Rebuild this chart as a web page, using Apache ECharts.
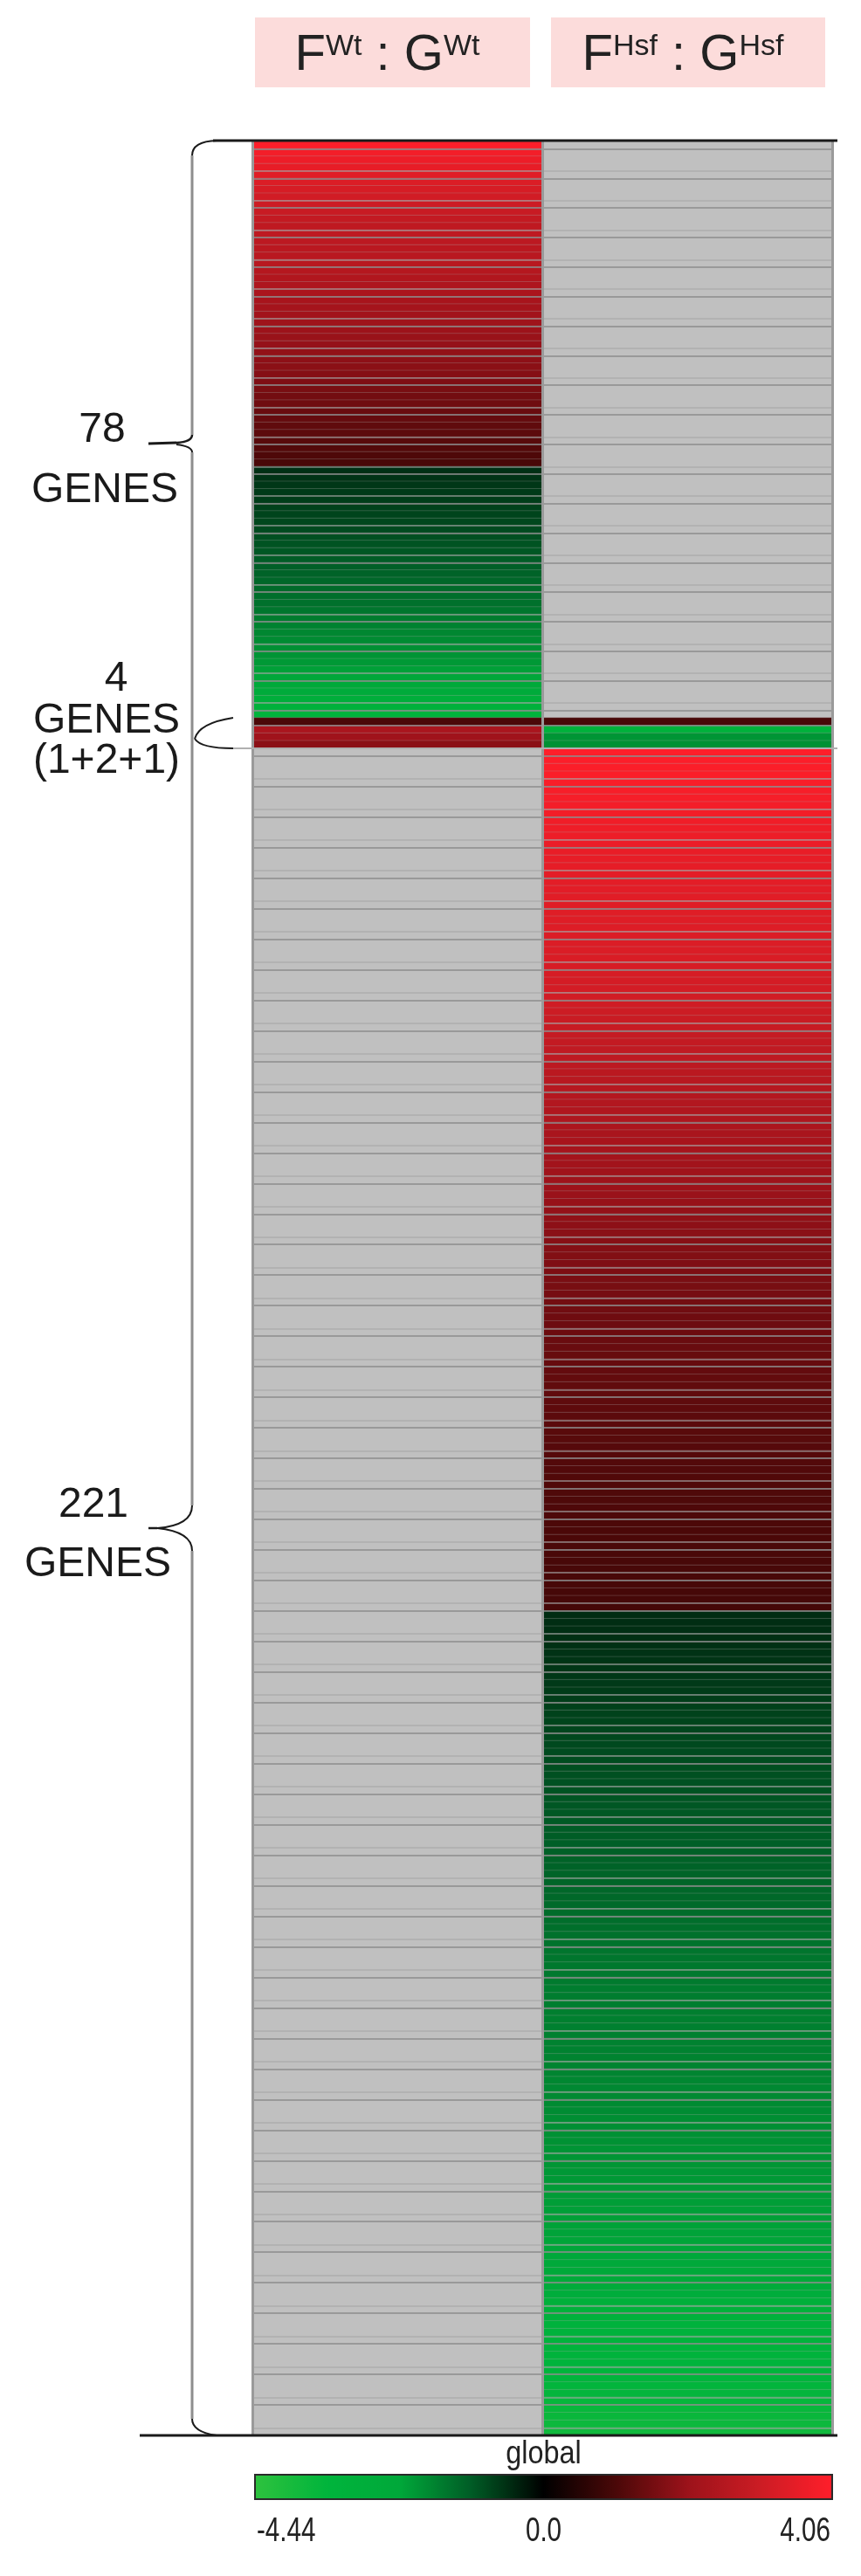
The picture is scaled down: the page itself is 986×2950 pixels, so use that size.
<!DOCTYPE html>
<html>
<head>
<meta charset="utf-8">
<script src="https://cdn.jsdelivr.net/npm/echarts@6/dist/echarts.min.js"></script>
<style>
html,body{margin:0;padding:0;background:#fff;}
#chart{width:986px;height:2950px;}
</style>
</head>
<body>
<div id="chart"></div>
<script>
// Columns (comparisons)
const columns = ['FWt : GWt', 'FHsf : GHsf'];

// 78 genes: FWt:GWt values (up-regulated, then down-regulated); FHsf:GHsf not significant
const wtUp = [4.02, 3.82, 3.68, 3.55, 3.42, 3.30, 3.20, 3.10, 3.01, 2.92,
  2.80, 2.72, 2.68, 2.65, 2.61, 2.58, 2.55, 2.48, 2.41, 2.33,
  2.26, 2.20, 2.13, 2.06, 2.00, 1.95, 1.90, 1.85, 1.80, 1.76,
  1.72, 1.64, 1.56, 1.48, 1.41, 1.35, 1.28, 1.22, 1.16, 1.10,
  1.05, 0.99, 0.92, 0.86];
const wtDown = [-0.75, -0.78, -0.82, -0.86, -0.90, -0.94, -0.97, -1.01, -1.05, -1.10,
  -1.15, -1.20, -1.25, -1.30, -1.35, -1.40, -1.45, -1.50, -1.55, -1.62,
  -1.70, -1.78, -1.85, -1.91, -1.98, -2.04, -2.10, -2.20, -2.30, -2.42,
  -2.60, -2.85, -3.10, -3.40];

// 4 genes (1+2+1): both comparisons significant
const wtShared = [0.88, 2.24, 2.02, 1.72];
const hsfShared = [0.85, -3.10, -2.05, -2.00];

// 221 genes: FHsf:GHsf values; FWt:GWt not significant
const hsfUp = [4.04, 4.00, 3.97, 3.95, 3.92, 3.90, 3.87, 3.83, 3.79, 3.75,
  3.71, 3.68, 3.65, 3.61, 3.57, 3.54, 3.50, 3.48, 3.46, 3.44,
  3.42, 3.40, 3.37, 3.35, 3.32, 3.30, 3.28, 3.26, 3.23, 3.20,
  3.17, 3.15, 3.10, 3.05, 2.99, 2.94, 2.89, 2.84, 2.79, 2.74,
  2.68, 2.64, 2.60, 2.56, 2.52, 2.47, 2.43, 2.38, 2.33, 2.28,
  2.23, 2.19, 2.15, 2.11, 2.07, 2.03, 1.99, 1.95, 1.91, 1.87,
  1.83, 1.78, 1.74, 1.70, 1.66, 1.63, 1.60, 1.56, 1.53, 1.50,
  1.47, 1.44, 1.41, 1.38, 1.35, 1.33, 1.31, 1.29, 1.27, 1.25,
  1.23, 1.21, 1.19, 1.17, 1.16, 1.15, 1.13, 1.11, 1.09, 1.07,
  1.05, 1.03, 1.01, 0.99, 0.97, 0.96, 0.95, 0.94, 0.93, 0.92,
  0.91, 0.90, 0.89, 0.88, 0.87, 0.86, 0.85, 0.85, 0.84, 0.83,
  0.82, 0.81, 0.80];
const hsfDown = [-0.70, -0.71, -0.72, -0.73, -0.75, -0.77, -0.79, -0.81, -0.83, -0.85,
  -0.87, -0.90, -0.93, -0.95, -0.97, -0.99, -1.01, -1.03, -1.05, -1.07,
  -1.09, -1.11, -1.13, -1.15, -1.17, -1.19, -1.21, -1.23, -1.25, -1.27,
  -1.29, -1.31, -1.33, -1.35, -1.37, -1.38, -1.40, -1.42, -1.45, -1.47,
  -1.50, -1.52, -1.55, -1.57, -1.60, -1.62, -1.64, -1.66, -1.69, -1.71,
  -1.72, -1.73, -1.74, -1.75, -1.76, -1.77, -1.78, -1.79, -1.80, -1.81,
  -1.83, -1.85, -1.87, -1.89, -1.91, -1.93, -1.95, -1.97, -1.99, -2.01,
  -2.03, -2.05, -2.07, -2.09, -2.11, -2.13, -2.15, -2.17, -2.19, -2.21,
  -2.23, -2.25, -2.27, -2.29, -2.32, -2.36, -2.42, -2.50, -2.62, -2.80,
  -3.05, -3.10, -3.14, -3.18, -3.22, -3.25, -3.28, -3.31, -3.34, -3.37,
  -3.40, -3.44, -3.48, -3.52, -3.57, -3.62, -3.68, -3.75];

// Colour scale
const scaleMin = -4.44, scaleMax = 4.06;
const scaleTicks = ['-4.44', '0.0', '4.06'];
const scaleTitle = 'global';

// Group labels
const groupNumbers = ['78', '4', '221'];

const FONT = '"Liberation Sans", Arial, sans-serif';
const chart = echarts.init(document.getElementById('chart'), null, {renderer: 'canvas'});

const topVals = wtUp.concat(wtDown);
const botVals = hsfUp.concat(hsfDown);
const rowNames = n => Array.from({length: n}, (_, i) => 'gene ' + (i + 1));

const gridBox = [
  {top: 162, height: 660},
  {top: 822, height: 35},
  {top: 857, height: 1932}
];
const nRows = [topVals.length, wtShared.length, botVals.length];

const grids = gridBox.map(g => ({
  left: 289, width: 664, top: g.top, height: g.height,
  show: true, backgroundColor: '#c0c0c0', borderWidth: 0
}));
const xAxes = gridBox.map((g, i) => ({
  type: 'category', gridIndex: i, data: columns, position: 'top',
  axisLine: {show: false}, axisTick: {show: false}, axisLabel: {show: false},
  splitLine: {show: true, showMinLine: true, showMaxLine: true,
    lineStyle: {color: '#9a9a9a', width: 3}},
  z: 5
}));
const yAxes = gridBox.map((g, i) => ({
  type: 'category', gridIndex: i, data: rowNames(nRows[i]), inverse: true,
  axisLine: {show: false}, axisTick: {show: false}, axisLabel: {show: false},
  splitLine: {show: true, showMinLine: false, showMaxLine: false,
    interval: (idx) => idx % 4 < 2,
    lineStyle: {color: ['rgba(140,140,140,0.75)', 'rgba(165,165,165,0.55)'], width: 2}},
  z: 4
}));

const cellStyle = {borderColor: 'rgba(175,175,175,0.25)', borderWidth: 1};
const series = [
  {type: 'heatmap', xAxisIndex: 0, yAxisIndex: 0,
    data: topVals.map((v, i) => [0, i, v]), itemStyle: cellStyle, emphasis: {disabled: true}},
  {type: 'heatmap', xAxisIndex: 1, yAxisIndex: 1,
    data: wtShared.map((v, i) => [0, i, v]).concat(hsfShared.map((v, i) => [1, i, v])),
    itemStyle: cellStyle, emphasis: {disabled: true}},
  {type: 'heatmap', xAxisIndex: 2, yAxisIndex: 2,
    data: botVals.map((v, i) => [1, i, v]), itemStyle: cellStyle, emphasis: {disabled: true}}
];

// Header boxes
const headerText = (base) =>
  '{m|F}{s|' + base + '}{m| : G}{s|' + base + '}';
const headers = [
  {x: 292, w: 315, sup: 'Wt'},
  {x: 631, w: 314, sup: 'Hsf'}
];

const graphics = [];
headers.forEach(h => {
  graphics.push({type: 'rect', shape: {x: h.x, y: 20, width: h.w, height: 80},
    style: {fill: '#fcdcdb'}, z: 1});
  graphics.push({type: 'text', x: h.x + h.w / 2 - 6, y: 62, z: 2,
    style: {text: headerText(h.sup), align: 'center', verticalAlign: 'middle',
      fill: '#222', font: '58px ' + FONT,
      rich: {
        m: {fontSize: 58, fontFamily: FONT, lineHeight: 62, fill: '#222', verticalAlign: 'bottom'},
        s: {fontSize: 34, fontFamily: FONT, lineHeight: 62, fill: '#222', verticalAlign: 'top', padding: [6, 0, 0, 0]}
      }}});
});

// Brace and frame lines
const black = '#1a1a1a';
const greyLine = '#8e8e8e';
const line = (x1, y1, x2, y2, color, w) => ({type: 'line', z: 10,
  shape: {x1, y1, x2, y2}, style: {stroke: color, lineWidth: w}});
const curve = (x1, y1, cx, cy, x2, y2, w) => ({type: 'bezierCurve', z: 10,
  shape: {x1, y1, x2, y2, cpx1: cx, cpy1: cy},
  style: {stroke: black, lineWidth: w, fill: null}});

graphics.push(line(244, 161, 959, 161, black, 3));
graphics.push(line(160, 2789, 959, 2789, black, 3));
graphics.push(line(267, 857, 959, 857, '#b0b0b0', 2));
graphics.push(line(220, 178, 220, 498, greyLine, 3));
graphics.push(line(220, 518, 220, 1724, greyLine, 3));
graphics.push(line(220, 1776, 220, 2770, greyLine, 3));
graphics.push(curve(220, 178, 220, 162, 248, 161, 2));
graphics.push(curve(220, 2770, 220, 2785, 248, 2789, 2));
graphics.push(curve(220, 498, 220, 506, 202, 507, 2.5));
graphics.push(line(202, 507, 170, 508, black, 3));
graphics.push(curve(202, 509, 220, 511, 220, 518, 2));
graphics.push(curve(220, 1724, 220, 1747, 180, 1750, 2));
graphics.push(line(180, 1750, 170, 1750, black, 2.5));
graphics.push(curve(180, 1750, 220, 1754, 220, 1776, 2));
graphics.push(curve(267, 822, 228, 828, 223, 846, 2));
graphics.push(curve(223, 846, 230, 857, 267, 857, 2));

// Group labels
const label = (txt, x, y) => ({type: 'text', x, y, z: 10,
  style: {text: txt, align: 'center', verticalAlign: 'middle', fill: '#1a1a1a',
    font: '48px ' + FONT}});
graphics.push(label(groupNumbers[0], 117, 493));
graphics.push(label('GENES', 120, 562));
graphics.push(label(groupNumbers[1], 133, 778));
graphics.push(label('GENES', 122, 826));
graphics.push(label('(1+2+1)', 122, 872));
graphics.push(label(groupNumbers[2], 107, 1724));
graphics.push(label('GENES', 112, 1792));

// Colour bar texts and frame
const barX = 292, barY = 2834, barW = 661, barH = 28;
graphics.push({type: 'rect', z: 20, shape: {x: barX, y: barY, width: barW, height: barH},
  style: {fill: null, stroke: '#2a2a2a', lineWidth: 2}});
graphics.push({type: 'text', x: barX + barW / 2, y: 2811, z: 10, scaleX: 0.9,
  style: {text: scaleTitle, align: 'center', verticalAlign: 'middle', fill: '#222', font: '36px ' + FONT}});
const tickText = (txt, x, align) => ({type: 'text', x, y: 2900, z: 10, scaleX: 0.78,
  style: {text: txt, align, verticalAlign: 'middle', fill: '#222', font: '38px ' + FONT}});
graphics.push(tickText(scaleTicks[0], barX + 2, 'left'));
graphics.push(tickText(scaleTicks[1], barX + barW / 2, 'center'));
graphics.push(tickText(scaleTicks[2], barX + barW - 2, 'right'));

chart.setOption({
  backgroundColor: '#ffffff',
  animation: false,
  grid: grids,
  xAxis: xAxes,
  yAxis: yAxes,
  visualMap: {
    type: 'continuous', min: scaleMin, max: scaleMax, seriesIndex: [0, 1, 2],
    orient: 'horizontal', left: barX, top: barY, padding: 0,
    itemWidth: barH, itemHeight: barW, calculable: false, realtime: false,
    showLabel: false, hoverLink: false,
    inRange: {color: ['#2ec23e', '#00b43c', '#00a83a', '#005c26', '#000000',
      '#4a0808', '#9c121a', '#cc1c24', '#ff1e2a']}
  },
  series: series,
  graphic: {elements: graphics}
});
</script>
</body>
</html>
